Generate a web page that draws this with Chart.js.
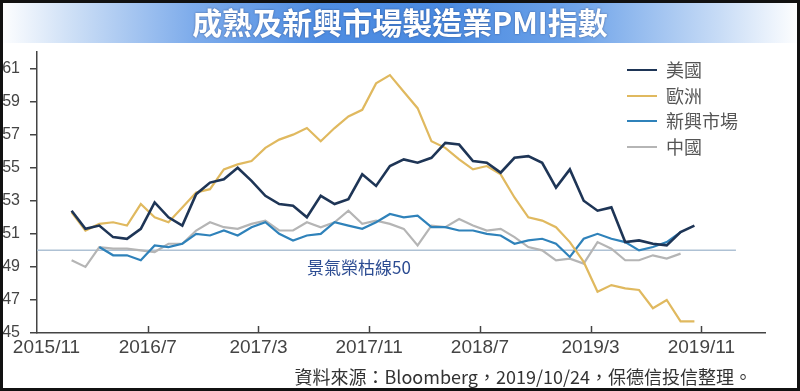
<!DOCTYPE html>
<html>
<head>
<meta charset="utf-8">
<title>成熟及新興市場製造業PMI指數</title>
<script src="https://cdn.jsdelivr.net/npm/chart.js@4.4.1/dist/chart.umd.min.js"></script>
<style>
    html, body { margin: 0; padding: 0; background: #fff; }
    #wrap { position: relative; width: 800px; height: 391px; overflow: hidden; background: #fff; }
    #myChart { position: absolute; left: 0; top: 0; }
    #title {
        position: absolute; left: 0; top: 0; width: 800px; height: 43px;
        background: linear-gradient(to right, #ffffff 0%, #cddff6 9%, #7eaceb 24%, #4f8de2 40%, #4a8ae0 55%, #6ea3e9 72%, #c8dcf6 90%, #ffffff 100%);
        color: #fff; font: bold 30px 'Noto Sans CJK TC', sans-serif;
        text-align: center; line-height: 43px;
        text-shadow: 0 0 2px rgba(20, 40, 90, .6);
    }
    #frame { position: absolute; left: 0; top: 0; width: 800px; height: 391px; box-sizing: border-box; border: 3px solid #111; pointer-events: none; }
    #legend { position: absolute; left: 627px; top: 57px; font: 18px 'Noto Sans CJK TC', sans-serif; color: #555; }
    #legend div { height: 25.6px; line-height: 25.6px; white-space: nowrap; }
    #legend span.line { display: inline-block; width: 30px; height: 0; border-top: 2.5px solid; vertical-align: middle; margin-right: 9px; position: relative; top: -2px; }
    #note { position: absolute; left: 307px; top: 254px; font: 17px 'Noto Sans CJK TC', sans-serif; color: #2c4c92; }
    #source { position: absolute; right: 48px; top: 363px; font: 18px 'Noto Sans CJK TC', sans-serif; color: #333; }
</style>
</head>
<body>
<div id="wrap">
    <canvas id="myChart" width="800" height="391"></canvas>
    <div id="title">成熟及新興市場製造業PMI指數</div>
    <div id="legend"></div>
    <div id="note">景氣榮枯線50</div>
    <div id="source">資料來源：Bloomberg，2019/10/24，保德信投信整理。</div>
    <div id="frame"></div>
</div>
<script>
// monthly readings, 2016/1 .. 2019/10
const months = [
    '2016/1','2016/2','2016/3','2016/4','2016/5','2016/6','2016/7','2016/8','2016/9','2016/10','2016/11','2016/12',
    '2017/1','2017/2','2017/3','2017/4','2017/5','2017/6','2017/7','2017/8','2017/9','2017/10','2017/11','2017/12',
    '2018/1','2018/2','2018/3','2018/4','2018/5','2018/6','2018/7','2018/8','2018/9','2018/10','2018/11','2018/12',
    '2019/1','2019/2','2019/3','2019/4','2019/5','2019/6','2019/7','2019/8','2019/9','2019/10'
];
const usData = [52.4, 51.3, 51.5, 50.8, 50.7, 51.3, 52.9, 52.0, 51.5, 53.4, 54.1, 54.3,
    55.0, 54.2, 53.3, 52.8, 52.7, 52.0, 53.3, 52.8, 53.1, 54.6, 53.9, 55.1,
    55.5, 55.3, 55.6, 56.5, 56.4, 55.4, 55.3, 54.7, 55.6, 55.7, 55.3, 53.8,
    54.9, 53.0, 52.4, 52.6, 50.5, 50.6, 50.4, 50.3, 51.1, 51.5];
const euData = [52.3, 51.2, 51.6, 51.7, 51.5, 52.8, 52.0, 51.7, 52.6, 53.5, 53.7, 54.9,
    55.2, 55.4, 56.2, 56.7, 57.0, 57.4, 56.6, 57.4, 58.1, 58.5, 60.1, 60.6,
    59.6, 58.6, 56.6, 56.2, 55.5, 54.9, 55.1, 54.6, 53.2, 52.0, 51.8, 51.4,
    50.5, 49.3, 47.5, 47.9, 47.7, 47.6, 46.5, 47.0, 45.7, 45.7];
const emData = [null, null, 50.2, 49.7, 49.7, 49.4, 50.3, 50.2, 50.4, 51.0, 50.9, 51.2,
    50.9, 51.4, 51.7, 51.0, 50.6, 50.9, 51.0, 51.7, 51.5, 51.3, 51.7, 52.2,
    52.0, 52.1, 51.4, 51.4, 51.2, 51.2, 51.0, 50.9, 50.4, 50.6, 50.7, 50.4,
    49.6, 50.7, 51.0, 50.7, 50.5, 50.0, 50.2, 50.5, 51.1, null];
const cnData = [49.4, 49.0, 50.2, 50.1, 50.1, 50.0, 49.9, 50.4, 50.4, 51.2, 51.7, 51.4,
    51.3, 51.6, 51.8, 51.2, 51.2, 51.7, 51.4, 51.7, 52.4, 51.6, 51.8, 51.6,
    51.3, 50.3, 51.5, 51.4, 51.9, 51.5, 51.2, 51.3, 50.8, 50.2, 50.0, 49.4,
    49.5, 49.2, 50.5, 50.1, 49.4, 49.4, 49.7, 49.5, 49.8, null];

const seriesNames = ['美國', '歐洲', '新興市場', '中國'];
const seriesColors = ['#1e3556', '#e0b95f', '#2f82ba', '#b5b5b5'];
const xTickLabels = ['2015/11', '2016/7', '2017/3', '2017/11', '2018/7', '2019/3', '2019/11'];
const yTicks = [45, 47, 49, 51, 53, 55, 57, 59, 61];
const boomBust = 50;
const boomBustEnd = '2020/1';

// months since 2015/11
function monthIndex(label) {
    const p = label.split('/');
    return (parseInt(p[0]) - 2015) * 12 + (parseInt(p[1]) - 11);
}
function toPoints(values) {
    return values.map(function(v, i) {
        return { x: monthIndex(months[i]) + 0.5, y: v };
    });
}

const innerTicks = {
    id: 'innerTicks',
    afterDraw: function(chart) {
        const xs = chart.scales.x, ctx = chart.ctx, y0 = chart.chartArea.bottom;
        ctx.save();
        ctx.strokeStyle = '#444';
        ctx.lineWidth = 1.5;
        xs.ticks.forEach(function(t) {
            if (t.value === 0) return;
            const px = Math.round(xs.getPixelForValue(t.value)) + 0.5;
            ctx.beginPath();
            ctx.moveTo(px, y0);
            ctx.lineTo(px, y0 - 7);
            ctx.stroke();
        });
        ctx.restore();
    }
};

const allData = [usData, euData, emData, cnData];
const datasets = allData.map(function(d, k) {
    return {
        label: seriesNames[k],
        data: toPoints(d),
        borderColor: seriesColors[k],
        borderWidth: k === 0 ? 2.6 : 2.2,
        pointRadius: 0,
        tension: 0,
        spanGaps: false
    };
});
datasets.push({
    label: '景氣榮枯線',
    data: [{ x: 0, y: boomBust }, { x: monthIndex(boomBustEnd) + 0.5, y: boomBust }],
    borderColor: '#aec1d4',
    borderWidth: 1.5,
    pointRadius: 0
});

const legendBox = document.getElementById('legend');
seriesNames.forEach(function(n, k) {
    const row = document.createElement('div');
    row.innerHTML = '<span class="line" style="border-color:' + seriesColors[k] + '"></span>' + n;
    legendBox.appendChild(row);
});

const ctx = document.getElementById('myChart');
const myChart = new Chart(ctx, {
    type: 'line',
    data: { datasets: datasets },
    plugins: [innerTicks],
    options: {
        responsive: false,
        animation: false,
        events: [],
        layout: { padding: { top: 52, right: 35, left: 0, bottom: 0 } },
        plugins: { legend: { display: false }, tooltip: { enabled: false } },
        scales: {
            x: {
                type: 'linear',
                min: 0,
                max: 52.6,
                afterBuildTicks: function(s) {
                    s.ticks = xTickLabels.map(function(l) { return { value: monthIndex(l) }; });
                },
                afterFit: function(s) {
                    s.height = 58;
                    s.paddingLeft = 0;
                    s.paddingRight = 0;
                },
                ticks: {
                    autoSkip: false,
                    maxRotation: 0,
                    padding: 3,
                    color: '#444',
                    font: { family: "'Liberation Sans Narrow', 'Liberation Sans', sans-serif", size: 19 },
                    callback: function(v) {
                        const i = xTickLabels.findIndex(function(l) { return monthIndex(l) === v; });
                        if (i === 0) return '\u2002\u2002' + xTickLabels[i];
                        return i >= 0 ? xTickLabels[i] : '';
                    }
                },
                grid: { display: false, drawTicks: false },
                border: { display: true, color: '#444', width: 1.5 }
            },
            y: {
                min: 45,
                max: 62,
                afterBuildTicks: function(s) {
                    s.ticks = yTicks.map(function(v) { return { value: v }; });
                },
                afterFit: function(s) { s.width = 37; },
                ticks: {
                    padding: 10,
                    color: '#444',
                    font: { family: "'Liberation Sans', sans-serif", size: 16 }
                },
                grid: { drawOnChartArea: false, drawTicks: true, tickLength: 7, color: '#444', lineWidth: 1.5 },
                border: { display: true, color: '#444', width: 1.5 }
            }
        }
    }
});
</script>
</body>
</html>
